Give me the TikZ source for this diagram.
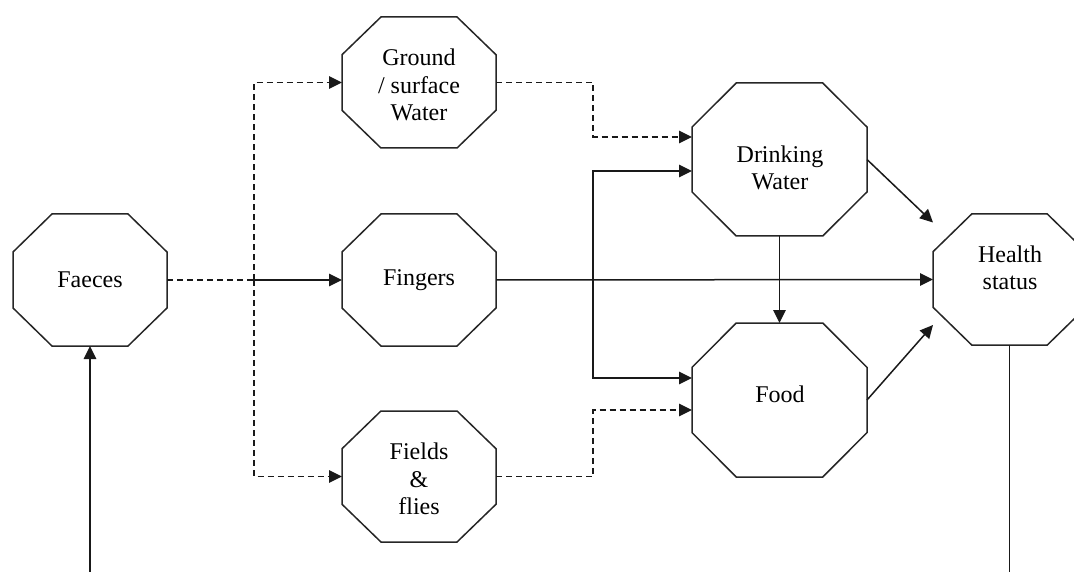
\documentclass[tikz,border=0pt]{standalone}
\usepackage{fontspec}
\setmainfont{Liberation Serif}
\usetikzlibrary{arrows.meta,calc}
\newcommand\octnode[5]{% name, cx, cy, w, h
  \node[octbox, minimum width=#4pt, minimum height=#5pt] (#1) at (#2,#3) {};
  \pgfmathsetmacro\octax{#4/2}\pgfmathsetmacro\octay{#5/2}%
  \pgfmathsetmacro\octbx{#4/2-0.253*#4}\pgfmathsetmacro\octby{#5/2-0.288*#5}%
  \draw[octline, shift={(#1.center)}] (-\octbx,-\octay) -- (\octbx,-\octay) -- (\octax,-\octby) -- (\octax,\octby)
    -- (\octbx,\octay) -- (-\octbx,\octay) -- (-\octax,\octby) -- (-\octax,-\octby) -- cycle;
}
\begin{document}
\begin{tikzpicture}[x=1pt,y=-1pt,
  octbox/.style={draw=none, shape=rectangle, inner sep=0pt, outer sep=0pt},
  octline/.style={line width=1.5pt, line join=miter, draw=black!85},
  lbl/.style={font=\fontsize{24}{27.5}\selectfont, align=center, inner sep=0pt},
  conn/.style={line width=1.5pt, draw=black!90},
  arr/.style={conn, -{Triangle[length=13pt,width=12.5pt]}},
  dashline/.style={conn, dash pattern=on 6pt off 4pt},
  dasharr/.style={dashline, -{Triangle[length=13pt,width=12.5pt]}}
]
\useasboundingbox (0,0) rectangle (1074,572);
\clip (0,0) rectangle (1074,572);

% nodes
\octnode{faeces}{90}{280}{154}{132}
\octnode{ground}{419}{82.5}{154}{131}
\octnode{fingers}{419}{280}{154}{132}
\octnode{fields}{419}{476.5}{154}{131}
\octnode{drink}{779.5}{159.5}{175}{153}
\octnode{food}{779.5}{400}{175}{154}
\octnode{health}{1009.5}{279.5}{153}{131}

% labels
\node[lbl] (faecesT) at (90,280) {Faeces};
\node[lbl] (groundT) at (419,85) {Ground\\/ surface\\Water};
\node[lbl] (fingersT) at (419,280) {Fingers};
\node[lbl] (fieldsT) at (419,479) {Fields\\\&\\flies};
\node[lbl] (drinkT) at (780,168) {Drinking\\Water};
\node[lbl] (foodT) at (780,394) {Food};
\node[lbl] (healthT) at (1010,268) {Health\\status};

% junctions
\coordinate (j1) at (254,280);
\coordinate (j2) at (593,280);
\coordinate (gA) at (593,137);
\coordinate (fA) at (593,410);
\coordinate (bot1) at (90,572);
\coordinate (bot2) at (1009.5,572);

% faeces to the three routes
\draw[dashline] (faeces.east) -- (j1);
\draw[dasharr] (j1) |- (ground.west);
\draw[dasharr] (j1) |- (fields.west);
\draw[arr] (j1) -- (fingers.west);

% ground water -> drinking water
\draw[dasharr] (ground.east) -| (gA) -- (drink.west |- gA);
% fields -> food
\draw[dasharr] (fields.east) -| (fA) -- (food.west |- fA);

% fingers -> health, drinking water, food
\draw[arr] (fingers.east) -- (health.west);
\draw[arr] (j2) |- ($(drink.west)+(0,11.5)$);
\draw[arr] (j2) |- ($(food.west)+(0,-22)$);

% drinking water -> food
\draw[arr] (drink.south) -- (food.north);

% to health
\draw[arr] (drink.east) -- ($(health.west)+(0,-57)$);
\draw[arr] (food.east) -- ($(health.west)+(0,45.5)$);

% feedback lines
\draw[arr] (bot1) -- (faeces.south);
\draw[conn] (health.south) -- (bot2);
\end{tikzpicture}
\end{document}
